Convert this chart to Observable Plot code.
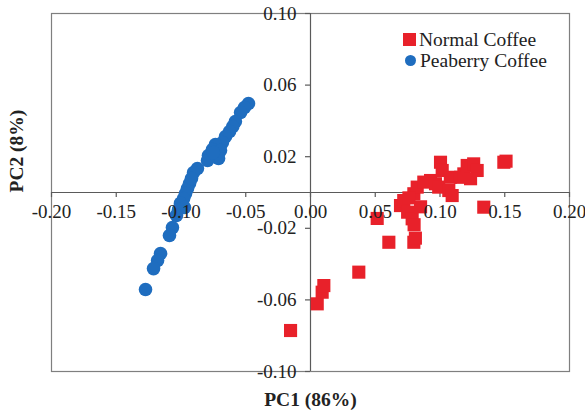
<!DOCTYPE html>
<html>
<head>
<meta charset="utf-8">
<script src="https://cdn.jsdelivr.net/npm/d3@7"></script>
<script src="https://cdn.jsdelivr.net/npm/@observablehq/plot@0.6"></script>
<style>
  html, body { margin: 0; padding: 0; background: #fff; }
  #wrap { position: relative; width: 585px; height: 417px; }
  #legend { position: absolute; left: 403px; top: 29px; font-family: "Liberation Serif", "Times New Roman", serif; font-size: 19.5px; color: #222; line-height: 21px; }
  #legend .row { display: flex; align-items: center; height: 21px; }
  #legend .sq { width: 13px; height: 13px; background: #e8212a; margin-right: 3px; }
  #legend .ci { width: 11px; height: 11px; border-radius: 50%; background: #1f6dbf; margin: 0 4px 0 2px; }
</style>
</head>
<body>
<div id="wrap">
  <div id="legend">
    <div class="row"><div class="sq"></div><span>Normal Coffee</span></div>
    <div class="row"><div class="ci"></div><span>Peaberry Coffee</span></div>
  </div>
</div>
<script>
// Series names
const seriesNames = ["Normal Coffee", "Peaberry Coffee"];

// Normal Coffee (red squares): PC1, PC2
const normalPC1 = [-0.0154, 0.0052, 0.0090, 0.0103, 0.0373, 0.0605, 0.0798, 0.0810, 0.0515, 0.0695,
  0.0720, 0.0750, 0.0785, 0.0800, 0.0798, 0.0824, 0.0875, 0.0927, 0.0965, 0.1004,
  0.1017, 0.0990, 0.1080, 0.1068, 0.1094, 0.1158, 0.1184, 0.1210, 0.1260, 0.1287,
  0.1236, 0.1338, 0.1493, 0.1510, 0.0850, 0.0760];
const normalPC2 = [-0.0771, -0.0622, -0.0557, -0.0520, -0.0445, -0.0278, -0.0278, -0.0255, -0.0145, -0.0073,
  -0.0045, -0.0110, -0.0147, -0.0180, -0.0007, 0.0030, 0.0058, 0.0067, 0.0049, 0.0169,
  0.0123, 0.0030, 0.0085, 0.0011, -0.0017, 0.0085, 0.0104, 0.0151, 0.0160, 0.0123,
  0.0077, -0.0082, 0.0169, 0.0175, -0.0080, -0.0030];

// Peaberry Coffee (blue circles): PC1, PC2
const peaberryPC1 = [-0.0479, -0.0510, -0.0540, -0.0580, -0.0600, -0.0625, -0.0656, -0.0680, -0.0734, -0.0757,
  -0.0695, -0.0788, -0.0710, -0.0795, -0.0750, -0.0873, -0.0903, -0.0934, -0.0950, -0.0965,
  -0.0980, -0.1004, -0.0973, -0.1019, -0.1035, -0.1066, -0.1089, -0.1158, -0.1181, -0.1212,
  -0.1274, -0.0919];
const peaberryPC2 = [0.0497, 0.0475, 0.0447, 0.0397, 0.0369, 0.0341, 0.0313, 0.0279, 0.0268, 0.0240,
  0.0235, 0.0207, 0.0190, 0.0179, 0.0223, 0.0134, 0.0112, 0.0050, 0.0022, -0.0006,
  -0.0034, -0.0061, -0.0084, -0.0095, -0.0128, -0.0196, -0.0240, -0.0341, -0.0380, -0.0425,
  -0.0542, 0.0078];

// Tick values
const xTicks = [-0.20, -0.15, -0.10, -0.05, 0.00, 0.05, 0.10, 0.15, 0.20];
const yTicks = [-0.10, -0.06, -0.02, 0.02, 0.06, 0.10];
const xTitle = "PC1 (86%)";
const yTitle = "PC2 (8%)";

const normal = normalPC1.map((x, i) => ({x, y: normalPC2[i], s: seriesNames[0]}));
const peaberry = peaberryPC1.map((x, i) => ({x, y: peaberryPC2[i], s: seriesNames[1]}));

const fmt = d => (d < 0 ? "-" : "") + Math.abs(d).toFixed(2);
const font = "Liberation Serif, Times New Roman, serif";

const chart = Plot.plot({
  width: 585,
  height: 417,
  marginLeft: 51,
  marginRight: 16,
  marginTop: 13,
  marginBottom: 46,
  style: {background: "#fff", fontFamily: font},
  x: {domain: [-0.2, 0.2], axis: null},
  y: {domain: [-0.1, 0.1], axis: null},
  marks: [
    Plot.frame({stroke: "#7f7f7f", strokeWidth: 1.2}),
    Plot.ruleX([0], {stroke: "#5a5a5a", strokeWidth: 1.2}),
    Plot.ruleY([0], {stroke: "#5a5a5a", strokeWidth: 1.2}),
    Plot.ruleX(xTicks, {x: d => d, y1: 0, y2: 0, insetBottom: -5, stroke: "#5a5a5a", strokeWidth: 1.2}),
    Plot.ruleY(yTicks, {y: d => d, x1: 0, x2: 0, insetLeft: -5, stroke: "#5a5a5a", strokeWidth: 1.2}),
    Plot.dot(peaberry, {x: "x", y: "y", r: 6.8, fill: "#1f6dbf", stroke: "none"}),
    Plot.dot(normal, {x: "x", y: "y", r: 7.4, symbol: "square", fill: "#e8212a", stroke: "none"}),
    Plot.text(xTicks, {x: d => d, y: 0, dy: 19, text: d => fmt(d), fontSize: 19, fill: "#222", fontFamily: font}),
    Plot.text(yTicks, {x: 0, y: d => d, dx: -14, text: d => fmt(d), textAnchor: "end", fontSize: 19, fill: "#222", fontFamily: font}),
    Plot.text([xTitle], {frameAnchor: "bottom", dy: 34, text: d => d, fontSize: 19.5, fontWeight: "bold", fill: "#222", fontFamily: font}),
    Plot.text([yTitle], {frameAnchor: "left", dx: -35, rotate: -90, text: d => d, fontSize: 19.5, fontWeight: "bold", fill: "#222", fontFamily: font})
  ]
});
document.getElementById("wrap").prepend(chart);
</script>
</body>
</html>
